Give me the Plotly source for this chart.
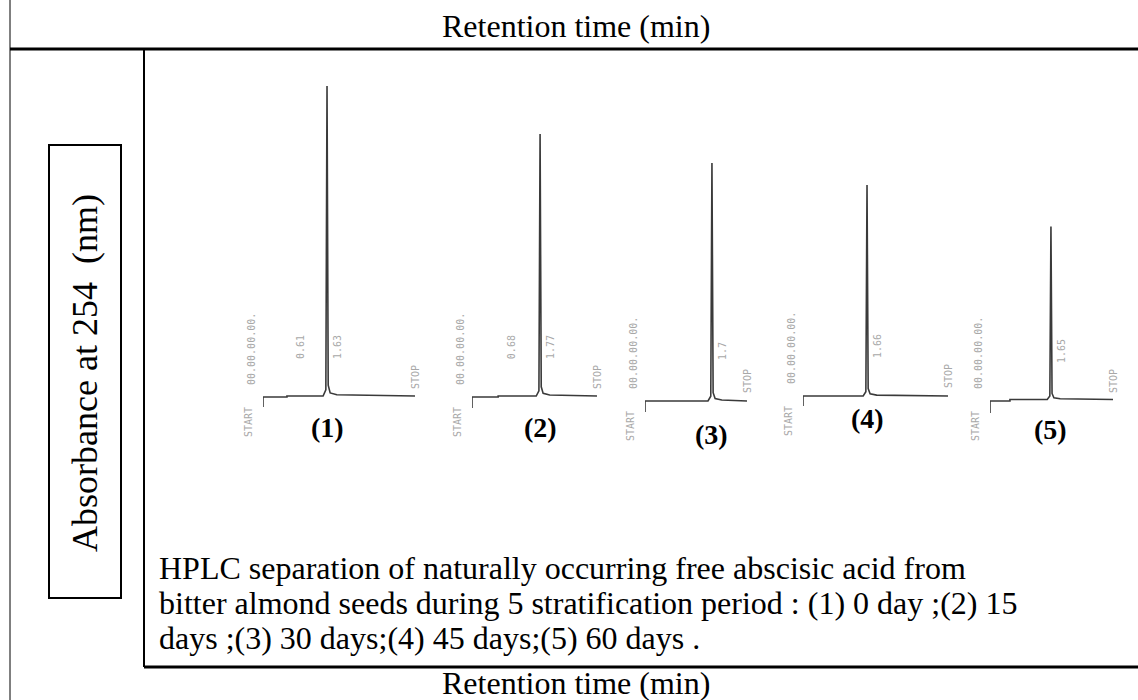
import plotly.graph_objects as go

W, H = 1138, 700

# ---------------- data ----------------
sample_labels = ["(1)", "(2)", "(3)", "(4)", "(5)"]
stratification_days = [0, 15, 30, 45, 60]
peak_rt = [1.63, 1.77, 1.70, 1.66, 1.65]          # ABA retention time (min)
peak_rt_text = ["1.63", "1.77", "1.7", "1.66", "1.65"]
peak_height = [31.0, 26.2, 23.8, 21.1, 17.3]      # relative absorbance units
minor_rt = [0.61, 0.68, None, None, 0.54]         # small baseline event (min)
minor_rt_text = ["0.61", "0.68", None, None, None]
stop_time = [3.87, 3.25, 2.59, 3.76, 3.33]        # STOP mark (min)
baseline_rise = [0.1, 0.1, 0.0, 0.0, 0.15]        # baseline offset after event
start_drop = [-1.0, -1.1, -1.1, -1.0, -1.2]       # pen drop at START
# peak profile: time offset from apex (min) / fraction of height
peak_dt = [-0.10, -0.03, 0.0, 0.03, 0.08, 0.25]
peak_frac = [0.0, 0.02, 1.0, 0.035, 0.01, 0.004]

# ---------------- layout geometry (pixels) ----------------
panel_x0 = [263, 472, 645, 803, 990]
panel_x1 = [415, 597, 747, 948, 1113]
panel_base = [397, 397, 401, 396, 401]
label_yshift = [-30, -30, -33, -22, -28]
px_per_unit = 10.0
y_range = [-1.5, 33.0]


def fx(px):
    return px / W


def fy(py):
    return 1 - py / H


fig = go.Figure()
annotations = []

for i in range(5):
    ax = "" if i == 0 else str(i + 1)
    xa, ya = "x" + ax, "y" + ax
    base = baseline_rise[i]
    t = [0.0, 0.0]
    a = [start_drop[i], 0.0]
    if minor_rt[i] is not None:
        t += [minor_rt[i], minor_rt[i]]
        a += [0.0, base]
    for dt, fr in zip(peak_dt, peak_frac):
        t.append(peak_rt[i] + dt)
        a.append(base + fr * peak_height[i])
    t.append(stop_time[i])
    a.append(base)
    fig.add_trace(go.Scatter(x=t, y=a, mode="lines", xaxis=xa, yaxis=ya,
                             line=dict(color="#3a3a3a", width=1.6),
                             showlegend=False, hoverinfo="skip"))

    bottom_px = panel_base[i] - y_range[0] * px_per_unit
    top_px = bottom_px - (y_range[1] - y_range[0]) * px_per_unit
    fig.layout["xaxis" + ax] = dict(domain=[fx(panel_x0[i]), fx(panel_x1[i])],
                                    range=[0, stop_time[i]], visible=False,
                                    anchor=ya, fixedrange=True)
    fig.layout["yaxis" + ax] = dict(domain=[fy(bottom_px), fy(top_px)],
                                    range=y_range, visible=False, anchor=xa,
                                    fixedrange=True)

    small = dict(family="DejaVu Sans Mono", size=10, color="#a8a8a8")
    annotations += [
        dict(x=0, y=0, xref=xa, yref=ya, text="START", showarrow=False,
             textangle=-90, font=small, xshift=-15, yshift=-25),
        dict(x=0, y=0, xref=xa, yref=ya, text="00.00.00.00.", showarrow=False,
             textangle=-90, font=small, xshift=-12, yshift=48),
        dict(x=peak_rt[i], y=0, xref=xa, yref=ya, text=peak_rt_text[i],
             showarrow=False, textangle=-90, font=small, xshift=10, yshift=50),
        dict(x=stop_time[i], y=0, xref=xa, yref=ya, text="STOP",
             showarrow=False, textangle=-90, font=small, xshift=0, yshift=20),
        dict(x=peak_rt[i], y=0, xref=xa, yref=ya, text="<b>%s</b>" % sample_labels[i],
             showarrow=False, font=dict(family="Liberation Serif", size=28, color="black"),
             yshift=label_yshift[i]),
    ]
    if minor_rt_text[i]:
        annotations.append(dict(x=minor_rt[i], y=0, xref=xa, yref=ya,
                                text=minor_rt_text[i], showarrow=False,
                                textangle=-90, font=small, xshift=13, yshift=50))

serif = dict(family="Liberation Serif", color="black")
caption_lines = [
    "HPLC separation of naturally occurring free abscisic acid from",
    "bitter almond seeds during 5 stratification period : (1) 0 day ;(2) 15",
    "days ;(3) 30 days;(4) 45 days;(5) 60 days .",
]
caption_y = [568, 603, 638]

annotations += [
    dict(x=fx(576), y=fy(26), xref="paper", yref="paper", text="Retention time (min)",
         showarrow=False, xanchor="center", yanchor="middle", font=dict(size=32, **serif)),
    dict(x=fx(576), y=fy(683), xref="paper", yref="paper", text="Retention time (min)",
         showarrow=False, xanchor="center", yanchor="middle", font=dict(size=32, **serif)),
    dict(x=fx(85), y=fy(373), xref="paper", yref="paper", text="Absorbance at 254  (nm)",
         showarrow=False, textangle=-90, xanchor="center", yanchor="middle",
         font=dict(size=36, **serif)),
]
for line, cy in zip(caption_lines, caption_y):
    annotations.append(dict(x=fx(157), y=fy(cy), xref="paper", yref="paper",
                            xanchor="left", yanchor="middle", align="left", text=line,
                            showarrow=False, font=dict(size=32, **serif)))

shapes = [
    dict(type="line", xref="paper", yref="paper", x0=fx(10), x1=fx(10), y0=0, y1=1,
         line=dict(color="black", width=1)),
    dict(type="line", xref="paper", yref="paper", x0=fx(10), x1=1, y0=fy(49), y1=fy(49),
         line=dict(color="black", width=3)),
    dict(type="line", xref="paper", yref="paper", x0=fx(144), x1=fx(144), y0=fy(49), y1=fy(667),
         line=dict(color="black", width=2)),
    dict(type="line", xref="paper", yref="paper", x0=fx(144), x1=1, y0=fy(667), y1=fy(667),
         line=dict(color="black", width=3)),
    dict(type="rect", xref="paper", yref="paper", x0=fx(49), x1=fx(121), y0=fy(145), y1=fy(598),
         line=dict(color="black", width=2)),
]

fig.update_layout(width=W, height=H, margin=dict(l=0, r=0, t=0, b=0),
                  paper_bgcolor="white", plot_bgcolor="white",
                  annotations=annotations, shapes=shapes, showlegend=False)

fig.write_html("out.html", config={"displayModeBar": False},
               post_script="document.body.style.margin='0';document.body.style.overflow='hidden';")
